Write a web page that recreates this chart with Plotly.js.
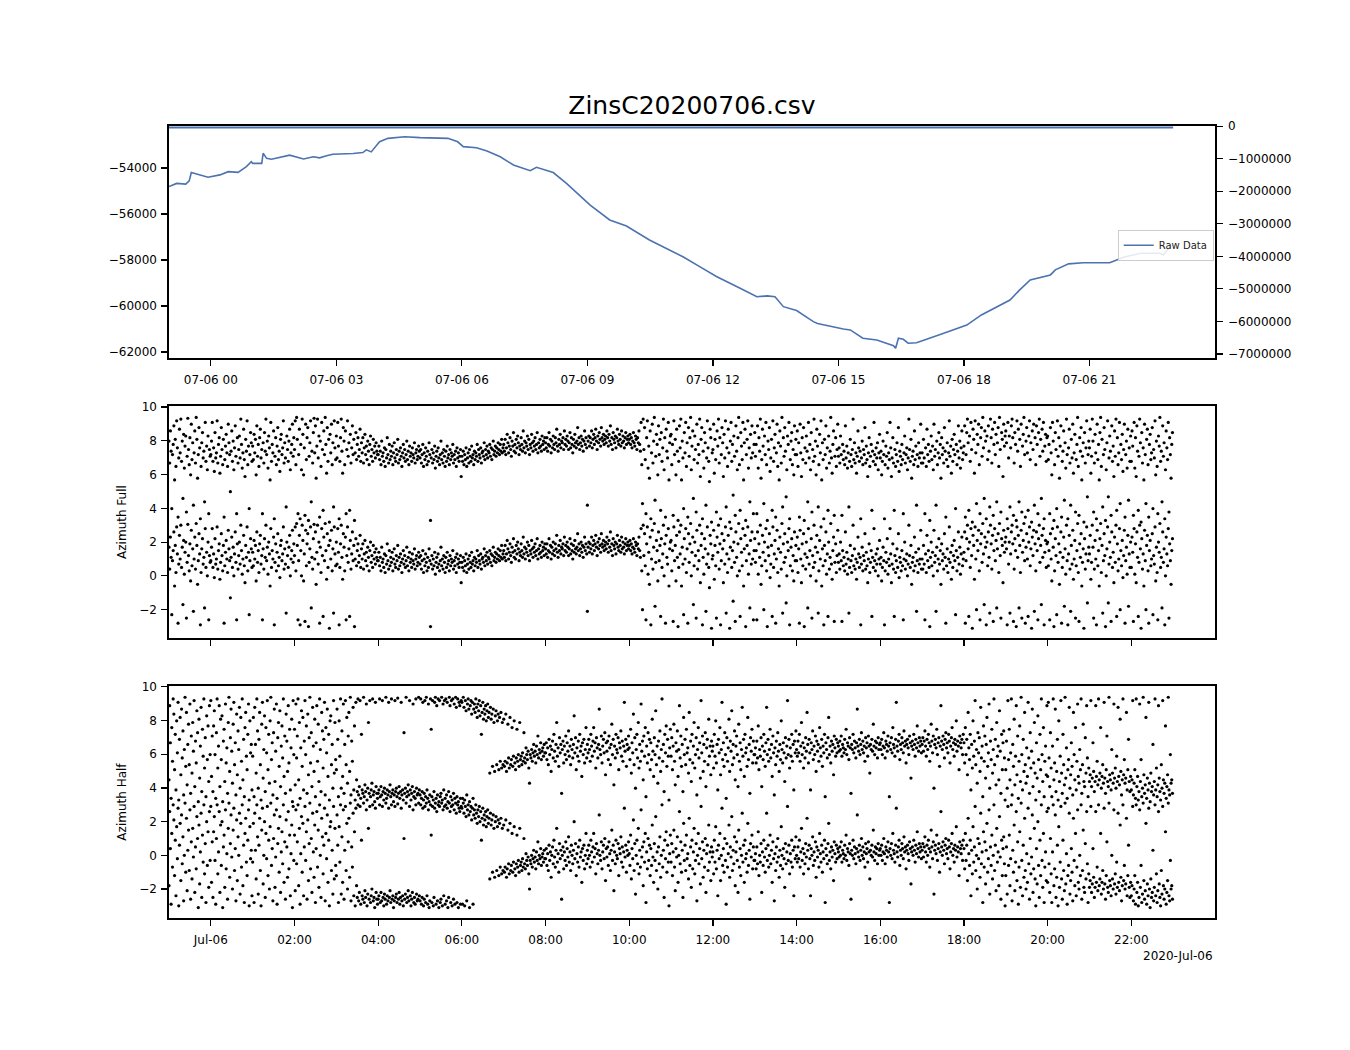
<!DOCTYPE html>
<html>
<head>
<meta charset="utf-8">
<script src="https://cdn.plot.ly/plotly-3.0.1.min.js"></script>
<style>html,body{margin:0;padding:0;background:#fff;}#chart{width:1350px;height:1050px;}</style>
</head>
<body>
<div id="chart"></div>
<script>
// ---------- Raw data (top panel, left axis) ----------
const rawTimes = [
"2020-07-05 23:00","2020-07-05 23:11","2020-07-05 23:24","2020-07-05 23:29","2020-07-05 23:32","2020-07-05 23:40","2020-07-05 23:56",
"2020-07-06 00:13","2020-07-06 00:25","2020-07-06 00:39","2020-07-06 00:51","2020-07-06 00:58","2020-07-06 01:00","2020-07-06 01:13",
"2020-07-06 01:15","2020-07-06 01:20","2020-07-06 01:27","2020-07-06 01:53","2020-07-06 02:13","2020-07-06 02:27","2020-07-06 02:36",
"2020-07-06 02:46","2020-07-06 02:55","2020-07-06 03:24","2020-07-06 03:38","2020-07-06 03:43","2020-07-06 03:50","2020-07-06 04:02",
"2020-07-06 04:14","2020-07-06 04:38","2020-07-06 05:00","2020-07-06 05:40","2020-07-06 05:54","2020-07-06 06:02","2020-07-06 06:21",
"2020-07-06 06:36","2020-07-06 06:55","2020-07-06 07:14","2020-07-06 07:38","2020-07-06 07:47","2020-07-06 08:11","2020-07-06 08:30",
"2020-07-06 09:04","2020-07-06 09:32","2020-07-06 09:56","2020-07-06 10:29","2020-07-06 11:17","2020-07-06 11:41","2020-07-06 12:05",
"2020-07-06 12:39","2020-07-06 13:03","2020-07-06 13:18","2020-07-06 13:29","2020-07-06 13:41","2020-07-06 14:00","2020-07-06 14:24",
"2020-07-06 14:30","2020-07-06 15:07","2020-07-06 15:17","2020-07-06 15:35","2020-07-06 15:55","2020-07-06 16:19","2020-07-06 16:22",
"2020-07-06 16:26","2020-07-06 16:33","2020-07-06 16:40","2020-07-06 16:52","2020-07-06 17:31","2020-07-06 18:04","2020-07-06 18:25",
"2020-07-06 18:52","2020-07-06 19:06","2020-07-06 19:20","2020-07-06 19:35","2020-07-06 20:04","2020-07-06 20:11","2020-07-06 20:30",
"2020-07-06 20:51","2020-07-06 21:29","2020-07-06 21:49","2020-07-06 22:13","2020-07-06 22:41","2020-07-06 22:46","2020-07-06 22:53",
"2020-07-06 22:57"];
const rawValues = [
-54810,-54670,-54700,-54560,-54200,-54260,-54400,
-54300,-54160,-54190,-53940,-53730,-53800,-53800,
-53360,-53580,-53620,-53440,-53610,-53510,-53560,
-53470,-53400,-53370,-53330,-53210,-53300,-52860,
-52710,-52640,-52680,-52710,-52860,-53070,-53120,
-53260,-53510,-53870,-54120,-53970,-54200,-54670,
-55610,-56260,-56520,-57130,-57860,-58290,-58720,
-59230,-59600,-59560,-59600,-60030,-60200,-60680,
-60760,-61000,-61040,-61400,-61480,-61730,-61840,
-61400,-61450,-61620,-61600,-61190,-60830,-60390,
-59960,-59740,-59300,-58870,-58650,-58430,-58170,
-58120,-58120,-57880,-57710,-57710,-57780,-57490,
-57350];

// ---------- flat series on the right axis ----------
const flatTimes = ["2020-07-05 23:00","2020-07-06 23:00"];
const flatValues = [-45000,-45000];

// ---------- Azimuth samples (radians), one row per hour starting 2020-07-05 23:00 ----------
const sampleStart = "2020-07-05T23:00:00Z";

const azFullRows = [
[1.7,0.4,2.3,1.1,-2.3,0.9,1.5,2.6,-0.6,1.8,0.2,2.9,1.3,-2.8,0.7,2.4,1.0,3.0,0.5,1.7,-1.7,2.1,0.1,1.4,2.0,-2.5,0.8,3.05,1.2,0.3,1.9,-0.3,2.7,0.6,1.6,-2.1,1.0,2.3,0.4,3.1,1.8,-0.5,0.9,2.5,1.3,-2.9,0.2,1.6,2.2,0.7,1.1,-1.9,2.8,0.5,1.4,0.0,2.0,-2.6,1.2,0.8],
[0.9,1.7,2.8,0.5,1.3,-0.1,2.2,0.7,1.0,2.9,0.4,1.5,1.9,-0.2,0.8,2.5,1.2,0.3,1.8,-2.8,0.6,1.4,2.1,1.0,0.2,2.7,1.6,0.9,-1.3,1.1,2.3,0.5,1.7,0.0,1.3,2.6,0.8,-2.6,1.9,0.4,1.2,2.0,0.7,3.0,1.5,0.1,1.0,2.4,0.6,-0.4,1.8,1.1,2.9,0.3,1.4,-2.3,0.9,2.2,1.6,0.5],
[1.4,0.6,2.1,1.0,1.8,-0.3,2.6,0.8,1.5,0.2,1.9,2.4,0.7,1.2,-2.6,1.6,0.4,2.2,1.1,3.0,0.9,1.7,0.1,2.0,1.3,-0.6,2.8,0.5,1.5,1.0,2.3,-2.9,0.8,1.9,0.3,1.4,2.5,0.6,1.1,-0.1,1.8,2.1,0.9,1.3,2.9,0.4,1.6,0.7,-2.2,2.0,1.2,0.5,1.7,2.4,0.0,1.0,1.5,2.7,0.8,1.9],
[1.2,2.9,0.3,3.1,1.8,-2.6,0.9,2.4,-2.9,1.5,0.0,3.0,2.1,-0.3,1.3,-2.7,2.7,0.6,1.9,2.5,-3.0,0.8,1.6,2.9,-1.9,1.1,0.4,2.2,3.05,1.0,2.6,-0.5,1.4,3.0,0.7,2.0,-2.8,1.7,0.2,2.8,1.2,-2.4,2.3,0.9,3.1,1.5,-0.2,2.5,0.5,1.8,-3.1,2.1,1.0,2.7,0.3,1.6,-2.2,2.9,1.3,0.6],
[2.0,0.7,2.8,1.4,-2.9,0.5,1.9,3.0,1.1,-0.2,2.5,1.7,0.3,2.3,-2.6,1.2,2.9,0.8,1.6,-2.4,2.1,0.4,1.3,2.6,0.9,1.8,-3.0,1.0,2.2,0.6,1.5,1.9,0.8,1.2,2.4,0.5,1.6,1.0,1.9,0.4,1.3,2.1,0.9,1.4,0.6,1.7,1.1,0.3,1.5,2.0,0.8,1.2,0.5,1.8,1.0,1.4,0.7,1.6,1.1,0.9],
[0.9,1.4,0.6,1.1,0.3,1.7,0.8,1.0,0.5,1.3,0.2,1.2,0.7,1.9,0.9,0.4,1.5,0.6,1.1,0.8,1.4,0.3,1.0,1.6,0.7,0.5,1.2,0.9,1.8,0.4,1.1,0.6,1.3,0.8,0.2,1.0,1.5,0.7,1.2,0.5,0.9,1.7,0.6,1.1,0.3,1.4,0.8,1.0,0.5,1.3,0.9,0.7,1.6,0.4,1.0,1.2,0.6,0.8,1.4,1.1],
[0.7,1.2,0.4,0.9,1.5,0.2,1.0,0.6,1.3,0.8,0.3,1.1,0.5,1.6,0.9,-3.0,0.7,1.2,0.4,1.0,0.6,1.4,0.1,0.8,1.1,0.5,1.3,0.7,0.3,0.9,1.7,0.6,1.0,0.4,1.2,0.8,0.2,1.1,0.5,1.4,0.7,0.9,0.3,1.2,0.6,1.0,0.8,1.5,0.4,0.9,0.6,1.1,0.2,1.3,0.7,1.0,0.5,0.8,1.2,-0.4],
[0.8,0.5,1.1,0.3,0.9,0.6,1.3,0.2,0.7,1.0,0.4,1.2,0.8,0.5,1.4,0.7,0.9,0.3,1.1,0.6,1.0,0.8,1.5,0.5,1.2,0.9,0.7,1.3,0.4,1.0,1.1,0.8,1.6,0.6,1.2,0.9,1.4,0.7,1.1,1.0,1.5,0.8,1.3,0.6,1.2,1.7,0.9,1.1,1.4,0.8,1.3,1.0,1.6,1.2,0.9,1.5,1.1,1.8,1.0,1.3],
[1.5,1.1,1.8,0.9,1.3,2.1,1.6,1.0,1.4,1.9,1.2,0.8,1.7,1.4,2.2,1.1,1.5,1.0,1.8,1.3,2.0,1.6,0.9,1.4,1.2,1.9,1.5,1.1,2.3,1.3,1.7,1.0,1.6,1.4,2.0,1.2,1.8,0.9,1.5,1.3,2.1,1.6,1.1,1.7,1.4,1.9,1.2,1.5,2.2,1.0,1.6,1.3,1.8,1.4,1.1,2.0,1.5,1.7,1.2,1.9],
[1.6,1.3,1.9,1.1,1.5,2.2,1.4,1.8,1.0,1.7,1.3,2.0,1.5,1.2,1.9,1.6,2.4,1.4,1.1,1.8,1.5,2.1,1.3,1.7,1.6,1.9,1.2,2.3,1.5,1.8,1.4,2.0,1.7,1.2,1.6,2.2,1.3,1.9,1.5,1.0,1.8,1.4,2.1,1.6,1.3,1.7,2.5,1.5,1.9,1.2,1.6,2.0,1.4,1.8,1.1,1.7,2.3,1.5,1.9,1.3],
[-2.1,1.7,2.0,1.4,1.9,1.6,2.3,1.3,1.8,2.1,1.5,1.9,2.4,1.7,1.2,2.0,1.6,2.2,1.8,1.4,2.5,1.9,1.7,2.1,1.5,1.8,2.0,1.6,2.3,1.9,1.4,2.1,1.7,2.6,1.5,1.9,1.2,2.2,1.8,1.6,2.0,1.3,1.9,2.4,1.7,1.5,2.1,1.8,1.4,2.3,1.6,2.0,1.7,1.3,1.9,2.2,1.5,1.8,2.0,1.6],
[1.8,2.1,1.5,1.9,1.3,1.7,2.2,1.6,1.4,2.0,1.8,1.2,1.9,1.6,2.3,1.5,1.1,2.8,0.3,-2.0,3.0,1.2,2.5,0.6,-2.6,1.9,2.9,0.1,1.4,-0.5,2.3,-2.9,1.0,2.7,0.4,1.7,3.1,-1.8,0.8,2.1,1.5,-0.3,2.6,0.9,1.8,-2.4,2.2,0.5,1.3,3.0,0.0,1.9,-2.8,2.4,1.1,0.7,2.8,-0.6,1.6,2.0],
[2.1,0.3,1.5,-2.7,2.9,0.9,1.8,-0.3,2.4,1.1,-3.0,0.5,2.6,1.3,3.0,-0.6,1.7,0.7,-2.3,2.2,1.0,2.8,0.2,1.6,-2.8,2.5,0.8,1.9,3.1,0.0,1.4,2.3,-1.7,0.6,2.0,1.2,-2.5,2.7,0.4,1.5,0.9,3.0,-0.4,1.8,2.5,-2.9,1.1,0.1,2.2,1.6,-2.1,0.7,2.9,1.3,0.5,-0.7,2.4,1.9,-3.1,1.0],
[1.2,2.7,-0.2,1.8,0.6,-2.5,2.3,1.4,3.0,0.4,1.9,-2.9,0.9,2.5,1.6,-0.4,2.1,0.7,2.9,-2.2,1.3,0.2,2.4,1.0,-3.1,1.7,2.8,0.5,1.5,-1.5,2.0,0.8,-2.7,2.6,1.1,0.0,1.9,3.1,0.3,-2.4,2.2,1.4,0.6,2.8,-0.6,1.6,2.4,-3.0,0.9,1.8,2.9,0.1,1.3,-1.9,2.1,0.7,2.6,1.0,-2.6,1.5],
[2.2,0.8,1.5,-2.6,2.6,0.1,1.9,1.1,3.0,-0.5,0.6,2.4,1.4,-2.0,2.0,0.9,2.8,0.3,-3.0,1.7,1.2,2.5,-0.1,0.7,1.8,-2.4,2.9,0.5,1.3,2.1,-2.8,1.0,2.7,0.2,1.6,-0.6,2.3,1.4,0.4,3.1,-2.2,1.9,0.8,2.5,1.1,-1.6,0.0,2.0,1.5,2.8,-2.9,0.6,1.7,2.2,0.3,1.2,-0.3,2.6,0.9,1.8],
[0.9,2.3,0.2,1.6,-2.8,2.7,1.0,-0.4,1.9,0.6,2.5,-3.0,1.3,0.4,2.0,1.1,-1.9,2.8,0.7,1.5,0.0,2.2,-2.5,1.2,0.5,3.0,0.8,1.7,-0.3,2.4,1.4,-2.2,0.3,2.1,1.0,2.9,-0.6,1.6,0.6,-2.9,1.8,0.9,2.6,0.1,1.3,-2.4,2.0,0.4,1.1,3.1,0.7,-0.2,1.5,2.3,-2.7,0.8,1.9,0.2,1.2,2.7],
[0.8,1.3,0.4,2.0,0.9,-2.7,1.5,0.6,1.1,0.3,2.6,0.7,1.4,0.1,1.0,-2.2,0.5,1.8,0.9,0.2,1.2,3.0,0.6,1.6,0.4,1.0,-0.2,0.8,2.3,1.3,0.5,1.1,-2.9,0.7,1.7,0.3,1.2,0.9,2.5,0.4,1.4,0.6,-0.4,1.0,1.9,0.2,0.8,1.5,-2.4,1.1,0.5,2.8,0.9,0.3,1.3,0.7,1.6,0.0,1.0,2.1],
[0.7,1.1,-0.3,0.5,1.7,0.9,-2.9,0.3,1.4,0.8,2.2,0.1,1.0,0.6,2.8,1.3,-0.4,0.7,1.9,0.4,-2.4,1.2,0.2,0.9,1.6,0.5,2.5,-0.1,1.1,0.8,0.3,1.5,0.6,-2.6,1.0,2.0,0.4,0.9,1.3,0.0,0.7,3.0,1.2,0.5,1.8,-0.5,0.8,1.1,0.3,2.3,0.6,1.4,-2.1,0.9,0.2,1.6,0.7,1.0,2.7,0.4],
[1.0,0.4,1.8,0.7,-2.6,1.3,0.2,2.4,0.9,1.5,0.5,-3.0,1.1,2.0,0.6,1.4,0.0,2.7,0.8,1.2,-2.1,1.7,0.3,1.0,2.2,0.7,1.5,-0.5,1.9,0.9,1.3,0.4,2.5,1.1,-2.8,0.6,1.6,0.2,1.0,2.9,0.8,1.4,-0.2,1.8,0.5,1.2,2.1,0.9,-2.3,1.5,0.3,1.1,2.6,0.7,1.7,0.1,1.3,2.3,0.6,1.0],
[1.4,2.6,-2.8,0.9,2.2,3.0,1.6,-2.4,2.0,0.5,2.8,1.2,-3.1,2.4,1.8,-0.2,2.9,1.0,-2.0,2.1,1.5,2.7,0.3,-2.6,1.9,2.5,0.8,3.1,1.3,-1.7,2.3,1.7,-2.9,2.0,0.6,2.6,1.1,-2.2,3.0,1.9,0.4,2.4,-2.7,1.5,2.8,0.9,2.1,-1.9,1.6,2.5,0.2,3.1,1.2,-2.5,2.2,1.8,-0.4,2.7,1.4,2.0],
[2.3,1.6,-2.9,2.8,0.7,2.0,-2.2,1.3,2.6,3.0,1.9,-2.7,0.4,2.2,1.5,-3.0,2.9,1.1,2.4,-1.9,1.8,0.2,2.7,-2.5,1.4,2.1,3.1,0.9,-2.8,1.7,2.5,1.0,-2.4,2.0,2.9,0.6,1.6,-3.1,2.3,1.2,2.7,-2.1,1.9,0.3,2.6,1.5,-2.6,2.2,3.0,0.8,1.8,-1.7,2.4,1.1,2.8,-2.9,1.4,2.1,0.5,1.9],
[2.0,0.6,1.5,-2.6,2.5,1.0,-0.3,2.8,1.7,-3.0,0.3,2.2,1.2,-2.3,2.9,0.8,1.9,-0.5,1.4,2.6,-2.8,0.5,1.1,2.3,-1.8,1.6,0.1,3.0,0.9,-2.9,1.3,2.4,0.4,-2.1,1.8,0.7,2.7,-0.2,1.0,2.1,-2.5,0.6,1.5,3.1,0.2,-2.7,1.9,1.1,2.5,-0.6,0.8,1.6,-3.1,2.2,0.4,1.3,2.9,-1.6,0.9,1.7],
[1.3,2.4,-0.2,0.8,3.0,1.7,-2.5,0.4,2.1,1.0,-2.9,2.7,0.6,1.5,-0.6,2.2,3.1,0.2,1.8,-2.2,0.9,2.5,1.2,-3.0,0.0,1.6,2.9,-1.6,0.7,2.0,1.1,-2.7,2.6,0.5,1.4,-0.4,2.3,0.8,3.0,-2.4,1.9,0.3,1.0,2.8,-2.0,1.5,0.6,2.1,-0.1,1.2,2.7,-2.8,0.9,1.7,0.1,2.4,-1.8,1.3,0.5,2.0],
[0.5,2.3,1.4,-2.7,2.8,0.1,1.9,-0.4,2.6,1.1,-2.4,0.8,3.0,1.6,-3.1,2.2,0.4,1.3,-0.6,2.7,0.9,-2.0,1.8,2.4,0.3,-2.8,1.5,2.1,0.6,1.0,2.5,-2.3,1.2,0.7,2.9,-0.3,1.7,0.2,-2.6,2.0,1.4,3.1,0.5,1.1,-1.9,2.6,0.8,1.6,-2.9,0.0,2.3,1.3,0.6,2.8,-2.5,1.9,0.9,-0.5,1.5,2.2]
];

const azHalfRows = [
[-1.8,2.6,0.4,-2.9,1.3,-0.7,3.0,2.1,-1.2,0.9,-2.4,1.7,-0.2,2.8,-3.0,0.6,1.9,-1.5,2.4,-0.5,1.1,-2.7,0.0,3.1,-1.0,2.2,-2.1,0.3,1.5,-0.9,2.7,-2.6,0.8,-1.4,1.6,-0.1,2.9,-2.2,0.5,-0.8,2.3,1.0,-3.1,1.8,-1.7,0.2,2.5,-2.5,1.2,-0.4,3.0,-1.1,0.7,-2.8,2.0,-0.6,1.4,-1.9,2.6,-0.3],
[2.9,-1.6,0.8,-2.5,1.4,2.3,-0.3,-2.9,1.0,3.0,-1.1,0.2,2.6,-2.2,1.8,-0.6,2.0,-3.1,0.5,1.2,-1.9,2.7,-0.8,0.1,-2.6,1.6,3.1,-1.3,0.7,2.4,-0.1,-2.0,1.5,2.8,-0.9,0.4,-2.7,2.1,-1.5,1.1,0.0,2.5,-2.3,1.9,-0.7,3.0,-1.8,0.6,-2.8,1.3,2.2,-0.4,-1.2,0.9,2.7,-3.0,1.7,-0.2,0.3,-2.4],
[-0.4,1.9,-2.8,2.5,0.3,-1.4,3.0,1.1,-2.3,0.6,2.2,-0.9,-3.0,1.5,2.8,-1.7,0.0,2.0,-2.5,1.3,-0.2,2.9,-1.2,0.9,-2.0,1.7,3.1,-0.6,0.4,-2.7,1.0,2.4,-1.9,-0.1,2.7,-2.9,0.7,1.6,-1.0,2.3,-2.2,0.2,1.4,-0.5,3.0,-1.6,0.8,-2.6,2.1,0.5,-1.3,2.6,-0.8,1.2,-2.4,0.1,1.8,-3.1,2.9,-0.3],
[1.2,-2.1,2.7,-0.5,0.8,3.0,-1.8,1.6,-2.9,0.1,2.3,-1.0,1.9,-2.4,0.5,2.9,-0.3,1.4,-2.6,2.1,-1.5,0.7,3.1,-0.8,1.0,-2.2,2.5,0.2,-1.3,1.8,-2.8,0.4,2.6,-0.7,1.5,-1.9,3.0,0.0,-2.5,2.2,1.1,-1.1,0.6,2.8,-2.7,1.3,-0.2,2.4,-1.6,0.9,-3.0,1.7,2.0,-0.9,0.3,-2.3,2.9,-1.4,1.6,-0.6],
[-1.2,2.4,0.6,-2.8,1.7,-0.4,3.0,-2.3,1.1,-1.6,2.7,-2.6,0.3,2.9,-0.9,1.9,-2.0,0.8,2.2,-1.3,3.1,-2.7,0.5,-0.7,2.5,-2.4,1.4,-3.0,2.8,-1.8,-2.5,3.0,-2.7,-2.2,2.9,-2.9,0.9,-2.4,-2.6,3.1,-2.8,-2.1,-2.5,2.7,-3.0,-2.3,1.6,-2.6,2.9,-2.8,-2.4,-2.0,3.0,-2.7,-2.5,-3.1,2.8,-2.2,-2.6,-2.9],
[-2.6,-2.4,3.0,-2.8,-2.2,-2.7,2.9,-2.5,-3.0,-2.3,-2.6,3.1,-2.9,-2.4,-2.7,2.8,-2.5,-2.1,-2.8,3.0,-2.6,-2.4,-3.1,-2.7,2.9,-2.5,-2.3,-2.8,3.05,-2.6,-2.2,-2.9,-2.5,2.8,-2.7,-2.4,-3.0,1.0,-2.6,-2.3,3.1,-2.8,-2.5,-2.1,-2.7,2.9,-2.4,-3.0,-2.6,-2.2,2.7,-2.8,-2.5,-2.9,3.0,-2.3,-2.7,-2.6,3.1,-2.4],
[-2.7,3.0,-2.9,-2.5,2.8,-3.0,-2.6,2.9,-2.8,3.1,-2.4,-2.9,2.7,-3.1,-2.7,3.0,1.2,-2.8,2.9,-3.0,-2.5,2.8,3.1,-2.9,2.6,-2.7,3.0,-3.1,2.9,-2.8,-2.6,3.1,-3.0,2.7,-2.4,2.9,-2.9,3.0,-2.7,2.8,-3.1,-2.5,3.1,2.6,-2.8,2.9,-3.0,3.0,-2.6,2.7,-2.9,3.1,2.5,-2.8,3.0,-3.1,2.8,2.6,-2.9,2.9],
[2.8,-2.9,3.1,2.5,-3.0,2.9,2.3,-2.7,2.7,3.0,2.4,-3.1,2.6,2.9,2.1,2.8,-2.9,2.4,2.7,2.2,3.0,2.5,1.9,2.7,2.3,2.9,2.0,2.6,0.9,2.2,2.8,1.8,2.4,2.1,2.6,1.7,2.3,2.7,1.9,2.2,-1.4,2.5,1.8,2.1,-1.0,2.4,1.6,-1.3,2.0,2.3,-0.9,1.7,2.1,-1.2,1.9,-0.7,2.2,-1.1,1.6,-0.9],
[1.8,-1.0,-0.7,2.1,-1.3,-0.8,1.5,-0.5,-1.1,1.9,-0.9,-0.6,1.3,-1.0,-0.4,1.7,-0.8,-1.2,-0.5,1.2,-0.7,-0.3,-1.0,1.6,-0.6,-0.4,-0.9,-0.2,-0.7,1.0,-0.5,-0.8,0.1,-0.3,-0.6,-0.1,-1.1,-2.0,-0.3,-0.5,0.0,-0.7,-0.2,0.3,-0.4,-0.1,-0.8,0.2,-0.3,0.8,-0.5,0.0,-0.2,0.4,-0.6,-0.1,0.1,-0.4,0.3,-0.2],
[-0.2,0.4,-0.6,0.1,-0.9,0.6,-0.3,0.2,-1.3,0.0,0.5,-0.5,0.9,-0.1,-0.7,0.3,1.6,-0.4,0.1,-1.0,0.7,-0.2,0.3,-2.6,0.0,0.5,-0.8,0.2,-0.3,0.8,-0.6,0.4,-0.1,1.1,-0.4,0.2,-0.9,0.6,0.0,-0.5,0.3,2.0,-0.2,0.7,-1.2,0.1,-0.4,0.5,-0.7,0.9,-0.1,0.2,-1.6,0.4,-0.3,0.6,-0.8,0.0,1.3,-0.5],
[0.3,-0.2,0.6,0.0,-0.7,0.9,0.2,-0.4,0.5,1.3,-0.1,0.4,-1.1,0.7,0.1,-0.5,0.3,2.4,0.0,-0.3,0.8,-0.8,0.2,0.6,-0.2,1.0,-1.5,0.4,-0.1,0.5,-0.6,0.8,0.1,-0.9,0.3,1.5,-0.3,0.6,-2.1,0.2,-0.5,0.9,0.0,-0.2,0.7,-1.2,0.4,0.1,1.1,-0.4,0.5,-0.7,0.2,2.8,-0.1,0.6,-1.0,0.3,0.0,0.8],
[0.1,-0.6,1.2,-1.4,0.4,-0.2,2.1,-0.9,0.7,-2.3,0.0,0.9,-0.5,1.6,-1.1,0.3,-0.7,2.7,-0.1,0.5,-1.8,0.8,-0.4,1.3,-2.8,0.2,-0.8,1.0,-0.3,0.6,-1.2,0.4,-0.6,1.8,-0.1,-1.6,0.7,-0.3,2.3,-0.9,0.2,-2.0,0.5,-0.5,1.1,-1.3,0.0,3.0,-0.7,0.3,-2.5,0.9,-0.2,1.4,-1.0,0.6,-0.4,-3.0,0.1,1.2],
[-0.4,0.7,-1.2,0.2,1.5,-0.7,-2.1,0.4,-0.1,1.1,-1.6,0.0,2.6,-0.5,0.8,-1.0,0.3,-2.5,1.9,-0.3,0.6,-0.9,1.2,-0.2,0.1,-1.4,2.2,-0.6,0.5,-1.9,0.9,-0.8,0.2,1.6,-1.1,-0.3,0.7,-2.7,0.0,1.3,-0.5,0.4,-1.7,2.9,-0.2,0.8,-1.3,0.3,-0.7,1.0,-2.2,0.1,0.6,-0.9,1.8,-0.4,0.2,-1.5,0.5,-0.1],
[0.2,-1.1,0.9,-0.4,1.7,-0.8,0.3,-2.4,0.6,-0.2,1.3,-1.5,0.0,2.8,-0.6,0.4,-1.0,1.0,-0.3,-2.9,0.7,-0.7,0.1,1.8,-1.3,0.5,-0.1,2.3,-0.9,0.3,-0.5,1.1,-1.8,0.2,0.8,-0.3,-2.2,1.5,-0.7,0.4,-1.2,0.0,2.5,-0.4,0.6,-1.6,0.9,-0.2,0.1,-1.0,1.9,-0.6,0.3,-2.6,0.7,-0.1,1.2,-0.8,0.5,-0.3],
[-0.3,0.1,-0.8,0.5,-0.5,1.4,-1.2,0.0,-0.4,0.7,-2.2,0.2,-0.6,0.9,-0.1,-1.0,0.4,2.5,-0.3,0.6,-0.7,0.0,1.2,-0.5,0.3,-1.6,0.8,-0.2,-2.7,0.1,-0.9,0.5,-0.4,1.0,-0.1,-1.3,0.3,-0.6,1.7,0.0,-0.8,0.4,-0.2,-1.9,0.7,-0.5,0.2,2.9,-0.3,0.6,-1.1,0.1,-0.4,0.9,-0.7,0.3,-2.4,0.5,-0.2,1.1],
[0.0,-0.4,0.5,-0.2,0.9,-0.7,0.2,1.6,-0.3,0.4,-1.1,0.1,-0.5,0.7,-0.1,2.2,0.3,-0.8,0.6,-0.2,-2.4,0.4,0.0,1.1,-0.6,0.2,-0.3,0.8,-1.3,0.5,-0.1,0.3,-0.7,1.3,0.1,-0.4,0.6,-1.0,0.2,-0.2,0.9,-2.8,0.4,0.0,-0.5,0.7,1.9,-0.3,0.2,-0.8,0.5,-0.1,0.3,-1.5,0.8,0.1,-0.4,0.6,-0.2,0.4],
[0.2,-0.1,0.5,0.0,0.8,-0.4,0.3,0.1,-0.2,0.6,0.0,1.2,-0.3,0.4,0.2,-0.6,0.7,0.1,-2.6,0.3,0.0,0.9,-0.2,0.5,0.1,-0.5,0.4,2.4,0.2,-0.1,0.6,-0.3,0.3,1.0,0.0,0.5,-0.2,0.2,-0.7,0.7,0.1,0.4,-0.4,0.8,0.2,-1.4,0.3,0.0,0.6,-0.1,1.5,0.2,-0.3,0.5,0.1,0.4,-0.5,0.7,0.0,0.3],
[0.4,0.0,0.6,-0.3,0.2,1.0,0.1,-0.5,0.5,0.3,-0.1,0.8,0.2,-2.8,0.4,0.0,0.7,-0.2,1.3,0.3,0.1,-0.4,0.6,2.8,0.2,-0.1,0.5,0.9,-0.6,0.3,0.0,0.7,0.4,-0.2,1.1,0.2,0.5,-0.8,0.3,0.6,0.1,-0.3,0.8,0.4,-1.7,0.2,0.5,0.0,0.9,0.3,-0.4,0.6,0.1,1.4,0.4,-0.1,0.7,0.2,0.5,-0.2],
[0.3,0.7,-0.1,0.5,1.1,0.2,-0.4,0.6,0.0,0.9,0.4,-0.7,0.2,1.5,0.5,-0.2,0.8,-2.3,0.3,0.6,0.1,1.2,-0.3,0.4,0.7,-1.0,0.2,2.6,0.5,0.0,0.8,0.3,-0.5,0.6,1.0,0.1,0.4,-0.2,0.9,0.5,-0.8,0.2,0.7,1.3,0.0,0.4,-0.4,0.6,0.3,1.7,-0.1,0.5,0.2,-1.2,0.8,0.4,0.1,0.6,-0.3,0.9],
[0.4,-0.8,1.3,-0.3,0.6,-1.5,2.2,0.1,-0.6,0.9,-2.4,0.3,-1.1,1.7,-0.4,0.5,2.9,-0.9,0.0,-2.0,1.0,-0.2,0.7,-1.3,2.5,-0.5,0.2,-2.8,1.4,-0.7,0.8,-1.7,0.3,1.9,-1.0,-0.2,2.7,-2.3,0.5,-0.6,1.2,-1.4,0.0,3.0,-0.9,0.6,-2.1,1.6,-0.4,0.2,-1.8,2.3,-0.1,-2.6,0.9,-1.2,0.4,1.1,-0.5,-3.0],
[-1.2,0.5,-2.3,2.9,-0.6,1.2,-1.8,-0.2,3.0,-2.7,0.3,-1.0,1.8,-2.1,-0.4,2.6,-1.5,0.8,-2.9,-0.7,1.4,-1.9,3.1,-0.3,-2.4,0.6,-1.3,2.2,-0.9,-2.0,0.1,-1.6,2.8,-0.5,-2.6,1.0,-1.1,-0.1,2.4,-2.2,-0.8,1.6,-1.4,-3.0,0.4,-1.7,2.0,-0.6,-2.5,0.9,-1.2,3.0,-0.3,-1.9,1.3,-2.8,-0.7,0.2,-1.5,2.6],
[-1.6,2.8,-0.5,-2.2,1.0,-1.1,-2.8,0.2,3.0,-1.8,-0.8,2.4,-2.5,-1.3,0.6,-3.0,1.7,-1.9,-0.4,2.9,-1.4,-2.6,0.9,-0.9,-2.1,3.1,-1.7,0.1,-2.9,-1.2,-0.6,2.5,-2.3,-1.5,0.4,-1.0,-2.7,2.2,-0.3,-1.8,1.3,-2.4,-0.7,2.7,-1.6,-2.0,0.0,-1.2,3.0,-2.6,-0.9,1.5,-1.9,-2.2,0.7,-1.4,2.6,-0.5,-2.8,-1.1],
[-1.9,-1.5,2.9,-2.2,-1.7,0.4,-1.3,-2.5,-1.9,2.6,-1.6,-0.7,-2.1,3.0,-1.8,-1.4,1.3,-2.3,-1.6,-0.9,-2.0,2.8,-1.7,-2.6,-1.2,0.8,-1.9,-2.2,3.1,-1.5,-1.8,-2.4,0.0,-1.4,-2.0,2.7,-1.7,-1.1,-2.3,-0.4,-1.9,2.5,-1.6,-2.1,1.8,-1.3,-2.7,-1.8,3.0,-1.5,-0.6,-2.0,-1.7,2.2,-2.4,-1.2,0.6,-1.9,-2.5,-1.6],
[-2.4,-1.8,2.9,-2.7,-2.0,-1.2,-2.9,3.0,-2.2,-1.6,-3.0,-2.5,2.7,-1.9,-0.6,-2.8,-2.3,3.1,-1.5,-2.6,-2.1,1.9,-2.9,-1.7,-2.4,2.8,-2.0,-3.1,-1.4,-2.5,-2.2,0.3,-2.7,-1.9,3.0,-2.4,-1.1,-2.8,-2.1,2.6,-1.7,-2.5,-3.0,-0.9,-2.3,2.9,-1.8,-2.6,-2.0,1.4,-2.9,-2.2,-1.5,3.1,-2.4,-2.7,-0.3,-2.0,-1.8,-2.6]
];

// ---------- tick labels ----------
const topTickVals = ["2020-07-06 00:00","2020-07-06 03:00","2020-07-06 06:00","2020-07-06 09:00","2020-07-06 12:00","2020-07-06 15:00","2020-07-06 18:00","2020-07-06 21:00"];
const topTickText = ["07-06 00","07-06 03","07-06 06","07-06 09","07-06 12","07-06 15","07-06 18","07-06 21"];
const botTickVals = ["2020-07-06 00:00","2020-07-06 02:00","2020-07-06 04:00","2020-07-06 06:00","2020-07-06 08:00","2020-07-06 10:00","2020-07-06 12:00","2020-07-06 14:00","2020-07-06 16:00","2020-07-06 18:00","2020-07-06 20:00","2020-07-06 22:00"];
const botTickText = ["Jul-06","02:00","04:00","06:00","08:00","10:00","12:00","14:00","16:00","18:00","20:00","22:00"];
const leftTickVals = [-62000,-60000,-58000,-56000,-54000];
const leftTickText = ["\u221262000","\u221260000","\u221258000","\u221256000","\u221254000"];
const rightTickVals = [0,-1000000,-2000000,-3000000,-4000000,-5000000,-6000000,-7000000];
const rightTickText = ["0","\u22121000000","\u22122000000","\u22123000000","\u22124000000","\u22125000000","\u22126000000","\u22127000000"];

// ---------- build ----------
function pad(n){return (n<10?'0':'')+n;}
function fmt(ms){const d=new Date(ms);return d.getUTCFullYear()+'-'+pad(d.getUTCMonth()+1)+'-'+pad(d.getUTCDate())+' '+pad(d.getUTCHours())+':'+pad(d.getUTCMinutes())+':'+pad(d.getUTCSeconds());}
const t0 = Date.parse(sampleStart);
const TWO_PI = 2*Math.PI;
function wrapped(rows){
  const t=[], v=[];
  rows.forEach((row,h)=>{row.forEach((val,i)=>{t.push(fmt(t0 + h*3600000 + Math.round(i*3600000/row.length))); v.push(val);});});
  return {x:t.concat(t), y:v.concat(v.map(a=>a+TWO_PI))};
}
const full = wrapped(azFullRows);
const half = wrapped(azHalfRows);

const BLUE = '#4c72b0';
const FONT = 'DejaVu Sans, sans-serif';
const mk = {color:'black', size:3.2};

const traces = [
  {x:rawTimes, y:rawValues, type:'scatter', mode:'lines', name:'Raw Data', line:{color:BLUE, width:1.6}, xaxis:'x', yaxis:'y'},
  {x:flatTimes, y:flatValues, type:'scatter', mode:'lines', showlegend:false, line:{color:BLUE, width:2}, xaxis:'x', yaxis:'y4'},
  {x:full.x, y:full.y, type:'scatter', mode:'markers', showlegend:false, marker:mk, xaxis:'x2', yaxis:'y2'},
  {x:half.x, y:half.y, type:'scatter', mode:'markers', showlegend:false, marker:mk, xaxis:'x3', yaxis:'y3'}
];

const xRange = ["2020-07-05 23:00","2020-07-07 00:00"];
const axBase = {showline:true, linecolor:'black', linewidth:1.6, mirror:true, ticks:'outside', ticklen:6, tickwidth:1.2, tickcolor:'black',
  showgrid:false, zeroline:false, tickfont:{size:12, color:'black', family:FONT}};
const yTitleFont = {size:12, family:FONT, color:'black'};

const layout = {
  width:1350, height:1050,
  margin:{l:169, r:135, t:126, b:132, pad:0},
  paper_bgcolor:'white', plot_bgcolor:'white',
  font:{family:FONT, color:'black', size:12},
  title:{text:'ZinsC20200706.csv', font:{size:25, family:FONT, color:'black'}, x:0.5125, xref:'container', xanchor:'center', y:0.9, yref:'container', yanchor:'middle'},
  showlegend:true,
  legend:{x:0.907, y:0.869, xanchor:'left', yanchor:'top', bgcolor:'rgba(255,255,255,0.85)', bordercolor:'#cccccc', borderwidth:1, font:{size:10, family:FONT, color:'#222'}},
  xaxis:Object.assign({}, axBase, {domain:[0,1], anchor:'y', type:'date', range:xRange, tickvals:topTickVals, ticktext:topTickText, ticklabelstandoff:4}),
  yaxis:Object.assign({}, axBase, {domain:[0.7071,1], anchor:'x', range:[-62261,-52174], tickvals:leftTickVals, ticktext:leftTickText, ticklabelstandoff:2}),
  yaxis4:Object.assign({}, axBase, {overlaying:'y', side:'right', anchor:'x', range:[-7122800,3000], tickvals:rightTickVals, ticktext:rightTickText, mirror:false, ticklabelstandoff:3}),
  xaxis2:Object.assign({}, axBase, {domain:[0,1], anchor:'y2', type:'date', range:xRange, matches:'x3', tickvals:botTickVals, ticktext:botTickText, showticklabels:false}),
  yaxis2:Object.assign({}, axBase, {domain:[0.3535,0.6465], anchor:'x2', range:[-3.68,10.06], dtick:2, tick0:0, ticklabelstandoff:2, title:{text:'Azimuth Full', font:yTitleFont, standoff:10}}),
  xaxis3:Object.assign({}, axBase, {domain:[0,1], anchor:'y3', type:'date', range:xRange, tickvals:botTickVals, ticktext:botTickText, ticklabelstandoff:4}),
  yaxis3:Object.assign({}, axBase, {domain:[0,0.2929], anchor:'x3', range:[-3.72,10.05], dtick:2, tick0:0, ticklabelstandoff:2, title:{text:'Azimuth Half', font:yTitleFont, standoff:10}}),
  annotations:[{text:'2020-Jul-06', xref:'paper', yref:'paper', x:1, y:-0.048, xanchor:'right', yanchor:'middle', showarrow:false, font:{size:12, family:FONT, color:'black'}}]
};

Plotly.newPlot('chart', traces, layout, {displayModeBar:false, staticPlot:true});
</script>
</body>
</html>
